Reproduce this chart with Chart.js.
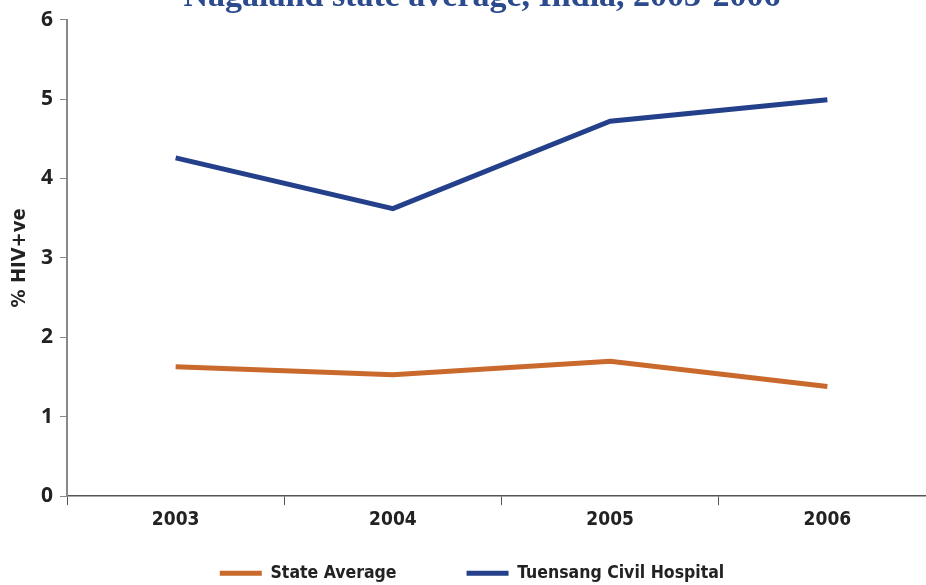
<!DOCTYPE html>
<html>
<head>
<meta charset="utf-8">
<script src="https://cdn.jsdelivr.net/npm/chart.js@4.4.0/dist/chart.umd.min.js"></script>
<style>
html,body{margin:0;padding:0;background:#fff;overflow:hidden;width:926px;height:585px;}
#wrap{position:absolute;left:0;top:0;width:945px;height:585px;}
</style>
</head>
<body>
<div id="wrap"><canvas id="c" width="945" height="585"></canvas></div>
<script>
const titleText = "Nagaland state average, India, 2003-2006";
const years = ["2003", "2004", "2005", "2006"];
const stateAverage = [1.63, 1.53, 1.70, 1.38];
const tuensang = [4.26, 3.62, 4.72, 4.99];
const yTicks = [0, 1, 2, 3, 4, 5, 6];

const cutTitle = {
  id: 'cutTitle',
  afterDraw(chart) {
    const ctx = chart.ctx;
    ctx.save();
    ctx.font = 'bold 34px "Liberation Serif", "DejaVu Serif", serif';
    ctx.fillStyle = '#2b4b8e';
    ctx.textAlign = 'center';
    ctx.textBaseline = 'alphabetic';
    ctx.fillText(titleText, 482, 6);
    ctx.restore();
  }
};

const LEGEND_PAD = 70;
const LEGEND_FONT = 17.5;
const legendShift = {
  id: 'legendShift',
  afterLayout(chart) {
    const lg = chart.legend;
    if (lg) {
      const lh = LEGEND_FONT * 1.2;
      lg.top = 575 - lh / 2 - LEGEND_PAD;
    }
  }
};

const narrow = '"DejaVu Sans Condensed", "Liberation Sans", Arial, sans-serif';

new Chart(document.getElementById('c'), {
  type: 'line',
  data: {
    labels: years,
    datasets: [
      { label: 'State Average', data: stateAverage, borderColor: '#c96a2c', backgroundColor: '#c96a2c', borderWidth: 5, pointRadius: 0, tension: 0 },
      { label: 'Tuensang Civil Hospital', data: tuensang, borderColor: '#25408b', backgroundColor: '#25408b', borderWidth: 5, pointRadius: 0, tension: 0 }
    ]
  },
  options: {
    responsive: false,
    animation: false,
    layout: { padding: { top: 10, left: 8, right: 9, bottom: 0 } },
    plugins: {
      title: { display: false },
      tooltip: { enabled: false },
      legend: {
        position: 'bottom',
        maxHeight: 51,
        labels: {
          boxWidth: 42,
          boxHeight: 5,
          padding: LEGEND_PAD,
          color: '#222',
          font: { family: narrow, size: LEGEND_FONT, weight: 'bold' },
          generateLabels(chart) {
            return Chart.defaults.plugins.legend.labels.generateLabels(chart).map(l => Object.assign(l, { lineWidth: 0 }));
          }
        }
      }
    },
    scales: {
      x: {
        offset: true,
        grid: { display: true, offset: true, drawOnChartArea: false, drawTicks: true, tickLength: 9, color: '#555', lineWidth: 1 },
        border: { display: true, color: '#555', width: 1.5 },
        ticks: { color: '#222', padding: 3, font: { family: narrow, size: 19, weight: 'bold' } }
      },
      y: {
        min: 0, max: 6,
        afterBuildTicks(scale) { scale.ticks = yTicks.map(v => ({ value: v })); },
        grid: { display: true, drawOnChartArea: false, drawTicks: true, tickLength: 7, color: '#888' },
        border: { display: true, color: '#888', width: 2 },
        ticks: { color: '#222', padding: 7, font: { family: '"Open Sans", "Liberation Sans", sans-serif', size: 21, weight: 'bold' } },
        title: { display: true, text: '% HIV+ve', color: '#222', padding: { top: 0, bottom: 2 }, font: { family: narrow, size: 20, weight: 'bold' } }
      }
    }
  },
  plugins: [cutTitle, legendShift]
});
</script>
</body>
</html>
